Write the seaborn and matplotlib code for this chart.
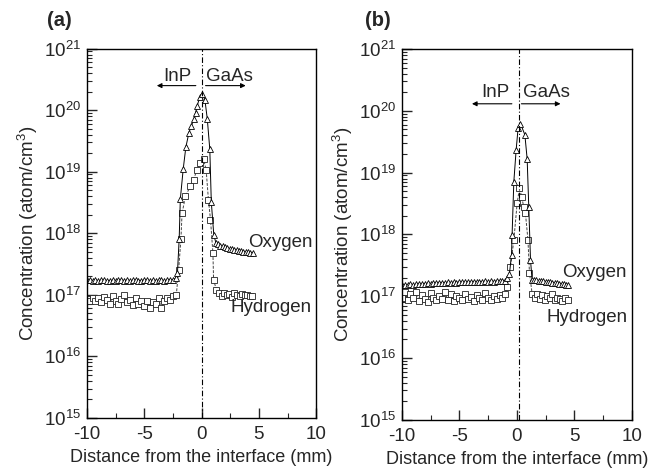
import numpy as np
import pandas as pd
import matplotlib
matplotlib.use("Agg")
import matplotlib.pyplot as plt
from matplotlib.ticker import LogLocator, MultipleLocator, NullFormatter
import seaborn as sns

# ---- panel (a) data ----
ox_a_x = [-10.0, -9.75, -9.5, -9.25, -9.0, -8.75, -8.5, -8.25, -8.0, -7.75, -7.5, -7.25,
          -7.0, -6.75, -6.5, -6.25, -6.0, -5.75, -5.5, -5.25, -5.0, -4.75, -4.5, -4.25,
          -4.0, -3.75, -3.5, -3.25, -3.0, -2.75, -2.5, -2.25,
          -2.1, -1.95, -1.85, -1.6, -1.37, -1.1, -0.9, -0.67, -0.52, -0.38, -0.15, 0.06,
          0.29, 0.5, 0.72, 0.85, 1.07,
          1.25, 1.45, 1.65, 1.85, 2.05, 2.25, 2.45, 2.65, 2.85, 3.05, 3.25, 3.45, 3.65,
          3.85, 4.05, 4.25, 4.45]
ox_a_y = [1.75e17, 1.72e17, 1.70e17, 1.74e17, 1.69e17, 1.71e17, 1.73e17, 1.68e17, 1.70e17,
          1.72e17, 1.69e17, 1.74e17, 1.71e17, 1.70e17, 1.73e17, 1.68e17, 1.71e17, 1.72e17,
          1.70e17, 1.69e17, 1.73e17, 1.71e17, 1.70e17, 1.72e17, 1.68e17, 1.71e17, 1.73e17,
          1.70e17, 1.72e17, 1.74e17, 1.76e17, 1.85e17,
          2.3e17, 8.1e17, 3.6e18, 1.1e19, 2.5e19, 4.3e19, 5.5e19, 7.1e19, 9.1e19, 1.17e20,
          1.66e20, 1.86e20, 1.48e20, 7.2e19, 2.3e19, 3.2e18, 9.3e17,
          7.0e17, 6.6e17, 6.3e17, 6.1e17, 5.9e17, 5.8e17, 5.6e17, 5.5e17, 5.4e17, 5.3e17,
          5.2e17, 5.1e17, 5.0e17, 4.95e17, 4.9e17, 4.85e17, 4.8e17]

hy_a_x = [-10.0, -9.75, -9.5, -9.25, -9.0, -8.75, -8.5, -8.25, -8.0, -7.75, -7.5, -7.25,
          -7.0, -6.75, -6.5, -6.25, -6.0, -5.75, -5.5, -5.25, -5.0, -4.75, -4.5, -4.25,
          -4.0, -3.75, -3.5, -3.25, -3.0, -2.75, -2.5,
          -2.2, -2.0, -1.8, -1.7, -1.4, -0.98, -0.7, -0.4, -0.15, 0.17, 0.4, 0.6, 0.78,
          0.99, 1.05, 1.3,
          1.55, 1.77, 1.99, 2.21, 2.43, 2.65, 2.87, 3.09, 3.31, 3.53, 3.75, 3.97, 4.19, 4.41]
hy_a_y = [0.85e17, 0.80e17, 0.90e17, 0.78e17, 0.88e17, 0.75e17, 0.92e17, 0.82e17, 0.72e17,
          0.95e17, 0.80e17, 0.70e17, 0.85e17, 0.98e17, 0.75e17, 0.82e17, 0.68e17, 0.90e17,
          0.72e17, 0.78e17, 0.65e17, 0.80e17, 0.62e17, 0.75e17, 0.70e17, 0.88e17, 0.60e17,
          0.78e17, 0.90e17, 0.82e17, 0.95e17,
          1.0e17, 2.5e17, 8.0e17, 2.1e18, 4.0e18, 5.8e18, 7.4e18, 1.07e19, 1.38e19, 1.62e19,
          1.07e19, 3.5e18, 1.66e18, 4.8e17, 1.74e17, 1.2e17,
          1.05e17, 0.95e17, 1.08e17, 0.98e17, 1.02e17, 0.92e17, 1.05e17, 1.0e17, 0.95e17,
          1.04e17, 0.98e17, 1.0e17, 0.95e17, 0.97e17]

# ---- panel (b) data ----
ox_b_x = [-10.0, -9.75, -9.5, -9.25, -9.0, -8.75, -8.5, -8.25, -8.0, -7.75, -7.5, -7.25,
          -7.0, -6.75, -6.5, -6.25, -6.0, -5.75, -5.5, -5.25, -5.0, -4.75, -4.5, -4.25,
          -4.0, -3.75, -3.5, -3.25, -3.0, -2.75, -2.5, -2.25, -2.0, -1.75, -1.5, -1.25, -1.0,
          -0.85, -0.64, -0.46, -0.41, -0.26, -0.06, 0.11, 0.32, 0.7, 0.9, 1.04, 1.19, 1.33,
          1.5, 1.7, 1.9, 2.1, 2.3, 2.5, 2.7, 2.9, 3.1, 3.3, 3.5, 3.7, 3.9, 4.1, 4.3, 4.45]
ox_b_y = [1.50e17, 1.52e17, 1.51e17, 1.55e17, 1.53e17, 1.56e17, 1.58e17, 1.55e17, 1.60e17,
          1.62e17, 1.59e17, 1.63e17, 1.65e17, 1.62e17, 1.66e17, 1.64e17, 1.67e17, 1.65e17,
          1.68e17, 1.66e17, 1.69e17, 1.70e17, 1.67e17, 1.71e17, 1.69e17, 1.72e17, 1.70e17,
          1.73e17, 1.71e17, 1.74e17, 1.72e17, 1.75e17, 1.73e17, 1.76e17, 1.74e17, 1.77e17,
          1.78e17,
          2.0e17, 2.3e17, 4.7e17, 9.8e17, 7.1e18, 2.3e19, 5.2e19, 6.2e19, 4.1e19, 1.66e19,
          2.8e18, 3.9e17, 1.8e17,
          1.82e17, 1.80e17, 1.78e17, 1.76e17, 1.74e17, 1.72e17, 1.70e17, 1.68e17, 1.66e17,
          1.64e17, 1.62e17, 1.60e17, 1.58e17, 1.56e17, 1.54e17, 1.52e17]

hy_b_x = [-10.0, -9.75, -9.5, -9.25, -9.0, -8.75, -8.5, -8.25, -8.0, -7.75, -7.5, -7.25,
          -7.0, -6.75, -6.5, -6.25, -6.0, -5.75, -5.5, -5.25, -5.0, -4.75, -4.5, -4.25,
          -4.0, -3.75, -3.5, -3.25, -3.0, -2.75, -2.5, -2.25, -2.0, -1.75, -1.5, -1.25, -1.0,
          -0.85, -0.55, -0.26, 0.03, 0.23, 0.42, 0.6, 0.75, 0.97, 1.1, 1.33,
          1.55, 1.77, 1.99, 2.21, 2.43, 2.65, 2.87, 3.09, 3.31, 3.53, 3.75, 3.97, 4.19, 4.41]
hy_b_y = [0.95e17, 1.15e17, 0.88e17, 1.10e17, 0.92e17, 1.18e17, 0.85e17, 1.05e17, 0.90e17,
          0.82e17, 1.12e17, 0.95e17, 0.86e17, 1.02e17, 0.90e17, 1.15e17, 0.88e17, 1.08e17,
          0.84e17, 1.00e17, 0.92e17, 0.86e17, 1.10e17, 0.90e17, 0.98e17, 0.85e17, 1.06e17,
          0.92e17, 0.88e17, 1.12e17, 0.95e17, 0.87e17, 1.02e17, 0.90e17, 1.05e17, 0.92e17,
          1.10e17,
          1.4e17, 3.0e17, 8.1e17, 3.2e18, 5.6e18, 4.1e18, 2.8e18, 2.2e18, 8.1e17, 2.4e17,
          1.1e17,
          0.95e17, 1.10e17, 0.90e17, 1.05e17, 0.88e17, 1.00e17, 0.92e17, 1.08e17, 0.86e17,
          0.95e17, 0.90e17, 0.85e17, 0.92e17, 0.88e17]

tick_vals = [-10, -5, 0, 5, 10]

sns.set_style("ticks")
plt.rcParams["font.family"] = ["Liberation Sans", "DejaVu Sans"]
plt.rcParams["mathtext.fontset"] = "custom"
plt.rcParams["mathtext.rm"] = "Liberation Sans"
plt.rcParams["mathtext.it"] = "Liberation Sans:italic"

FS = 13.5

fig = plt.figure(figsize=(6.63, 4.76), dpi=100)
ax_a = fig.add_axes([0.131, 0.122, 0.346, 0.776])
ax_b = fig.add_axes([0.606, 0.118, 0.347, 0.779])

panels = [
    (ax_a, ox_a_x, ox_a_y, hy_a_x, hy_a_y, 0.0,
     dict(inp=(-2.1, 3.5e20), gaas=(2.4, 3.5e20), arr_y=2.5e20, inp_arr=(-0.5, -3.9), gaas_arr=(0.35, 3.85),
          ox=(4.1, 7.0e17), hy=(2.5, 6.2e16))),
    (ax_b, ox_b_x, ox_b_y, hy_b_x, hy_b_y, 0.2,
     dict(inp=(-1.9, 1.95e20), gaas=(2.6, 1.95e20), arr_y=1.3e20, inp_arr=(-0.43, -3.9), gaas_arr=(0.4, 3.8),
          ox=(3.9, 2.4e17), hy=(2.6, 4.5e16))),
]

for ax, ox_x, ox_y, hy_x, hy_y, vline_x, lab in panels:
    df_ox = pd.DataFrame({"x": ox_x, "y": ox_y})
    df_hy = pd.DataFrame({"x": hy_x, "y": hy_y})
    sns.lineplot(data=df_hy, x="x", y="y", ax=ax, estimator=None, sort=False,
                 color="#444444", lw=0.7, linestyle=(0, (3, 1.5)), marker="s", markersize=4.3,
                 markerfacecolor="white", markeredgecolor="#222222", markeredgewidth=0.6)
    sns.lineplot(data=df_ox, x="x", y="y", ax=ax, estimator=None, sort=False,
                 color="black", lw=0.7, marker="^", markersize=4.3,
                 markerfacecolor="white", markeredgecolor="black", markeredgewidth=0.6)
    ax.axvline(vline_x, color="black", lw=0.8, linestyle=(0, (5, 2, 1, 2)))

    ax.set_yscale("log")
    ax.set_xlim(-10, 10)
    ax.set_ylim(1e15, 1e21)
    ax.set_xticks(tick_vals)
    ax.set_xticklabels([str(v) for v in tick_vals])
    ax.xaxis.set_minor_locator(MultipleLocator(2.5))
    ax.yaxis.set_major_locator(LogLocator(base=10, numticks=10))
    ax.yaxis.set_minor_locator(LogLocator(base=10, subs=np.arange(2, 10), numticks=20))
    ax.yaxis.set_minor_formatter(NullFormatter())
    ax.tick_params(which="both", direction="in", top=False, right=False, labelsize=FS)
    ax.tick_params(which="major", length=7, width=1)
    ax.tick_params(which="minor", length=3.5, width=0.8)
    ax.tick_params(axis="x", pad=6)
    ax.tick_params(axis="y", pad=4)
    for s in ax.spines.values():
        s.set_linewidth(1.0)
        s.set_color("black")

    ax.set_xlabel("Distance from the interface (mm)", fontsize=13, labelpad=4)
    ax.set_ylabel("Concentration (atom/cm$^3$)", fontsize=FS, labelpad=3)

    ax.text(lab["inp"][0], lab["inp"][1], "InP", ha="center", va="center", fontsize=FS)
    ax.text(lab["gaas"][0], lab["gaas"][1], "GaAs", ha="center", va="center", fontsize=FS)
    ax.annotate("", xy=(lab["inp_arr"][1], lab["arr_y"]), xytext=(lab["inp_arr"][0], lab["arr_y"]),
                arrowprops=dict(arrowstyle="-|>", lw=0.8, color="black", mutation_scale=7,
                                shrinkA=0, shrinkB=0))
    ax.annotate("", xy=(lab["gaas_arr"][1], lab["arr_y"]), xytext=(lab["gaas_arr"][0], lab["arr_y"]),
                arrowprops=dict(arrowstyle="-|>", lw=0.8, color="black", mutation_scale=7,
                                shrinkA=0, shrinkB=0))
    ax.text(lab["ox"][0], lab["ox"][1], "Oxygen", ha="left", va="center", fontsize=FS)
    ax.text(lab["hy"][0], lab["hy"][1], "Hydrogen", ha="left", va="center", fontsize=FS)

fig.text(0.071, 0.957, "(a)", fontsize=14.5, fontweight="bold", ha="left", va="center")
fig.text(0.551, 0.957, "(b)", fontsize=14.5, fontweight="bold", ha="left", va="center")

fig.savefig("out.png", dpi=100)
